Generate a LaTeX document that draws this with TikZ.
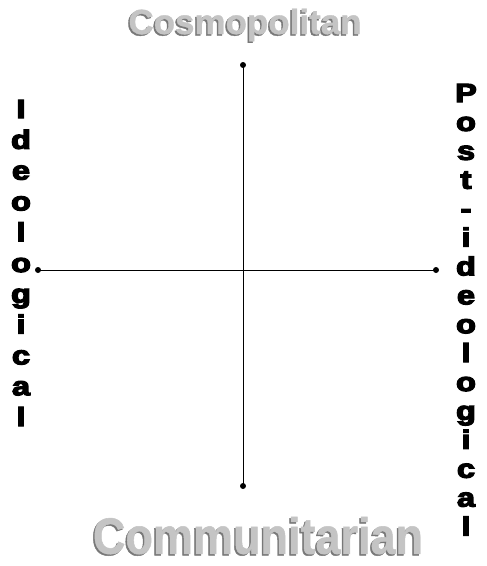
\documentclass[tikz,border=0pt]{standalone}
\usepackage{fontspec}
\usepackage{graphicx}
\setmainfont{Liberation Sans}
\newfontfamily\heavyfont[FakeBold=4.5]{Liberation Sans Bold}
\newfontfamily\titlefont[FakeBold=1]{Liberation Sans Bold}
\definecolor{silver}{RGB}{196,196,196}
\definecolor{silverdark}{RGB}{120,120,120}
\newcommand{\wideletter}[1]{\scalebox{1.3}[1.05]{#1}}
\begin{document}
\begin{tikzpicture}[x=1pt,y=-1pt,
  axis/.style={line width=0.8pt,black},
  enddot/.style={circle,fill=black,inner sep=0pt,minimum size=6pt},
  vletter/.style={anchor=base,inner sep=0pt,font=\heavyfont\fontsize{25}{25}\selectfont},
  shadowtxt/.style={inner sep=0pt,text=silverdark},
  maintxt/.style={inner sep=0pt,text=silver}]
\useasboundingbox (0,0) rectangle (487,566);
\coordinate (top) at (243,65);
\coordinate (bottom) at (243,486);
\coordinate (left) at (38,270);
\coordinate (right) at (436,270);
\draw[axis] (top) -- (bottom);
\draw[axis] (left) -- (right);
\foreach \c [count=\i] in {top,bottom,left,right}
  \node[enddot] (dot\i) at (\c) {};
% titles
\node[shadowtxt] (cosmoS) at (243.5,26.5) {\resizebox{233pt}{!}{\titlefont Cosmopolitan}};
\node[maintxt] (cosmo) at (245,25) {\resizebox{233pt}{!}{\titlefont Cosmopolitan}};
\node[shadowtxt] (commS) at (256.5,537) {\resizebox{330pt}{37pt}{\titlefont Communitarian}};
\node[maintxt] (comm) at (258,535.5) {\resizebox{330pt}{37pt}{\titlefont Communitarian}};
% left vertical word
\foreach \l [count=\i] in {I,d,e,o,l,o,g,i,c,a,l}
  \node[vletter] (L\i) at (21,{118+(\i-1)*30.8}) {\wideletter{\l}};
% right vertical word
\foreach \l [count=\i] in {P,o,s,t,-,i,d,e,o,l,o,g,i,c,a,l}
  \node[vletter] (R\i) at (466,{102+(\i-1)*28.9}) {\wideletter{\l}};
\end{tikzpicture}
\end{document}
